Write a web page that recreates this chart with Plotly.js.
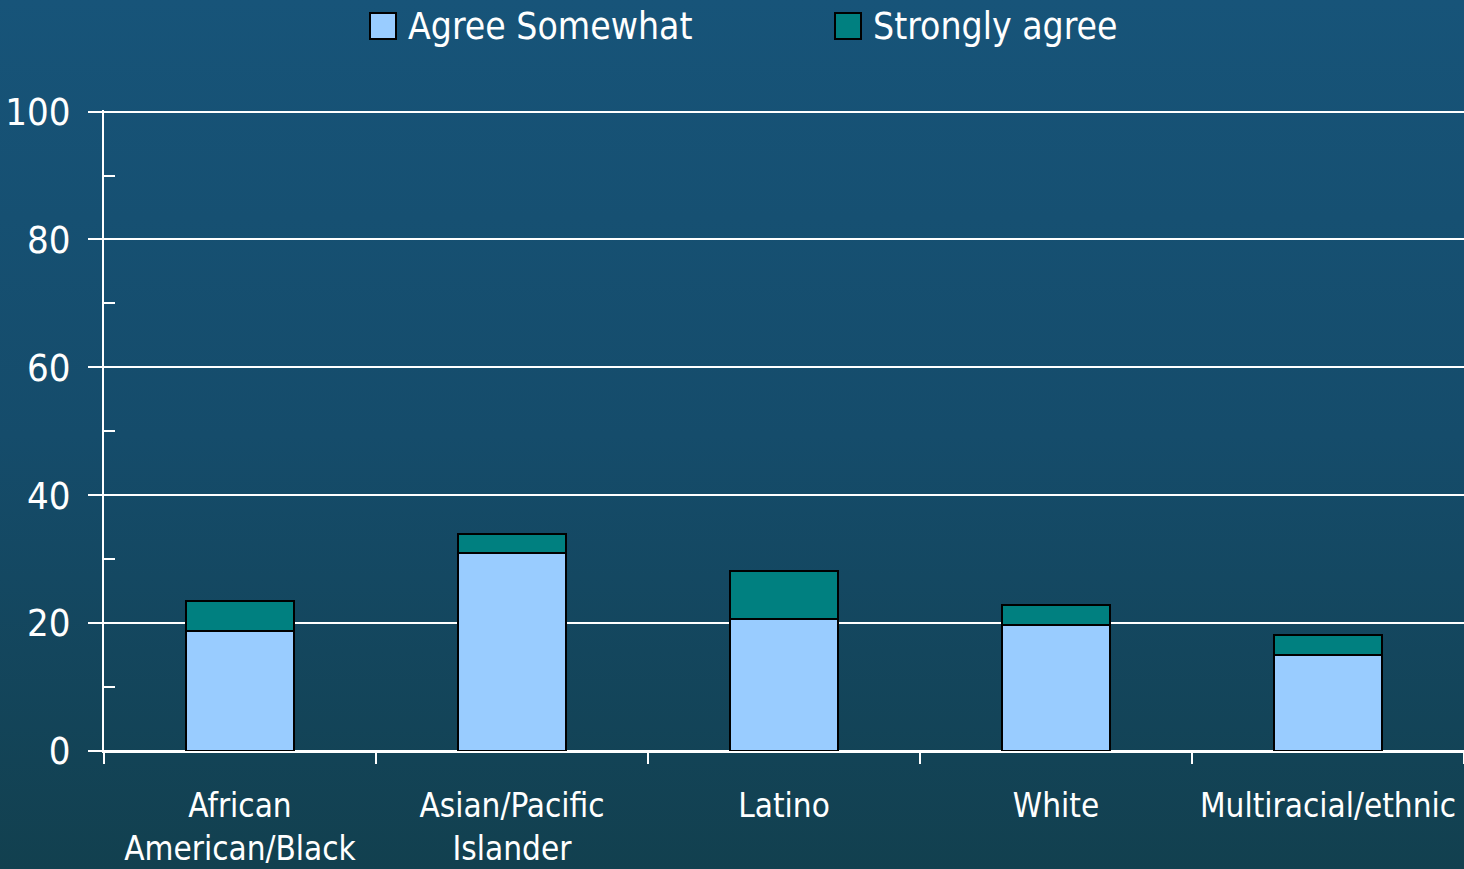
<!DOCTYPE html>
<html>
<head>
<meta charset="utf-8">
<script src="https://cdn.plot.ly/plotly-3.0.1.min.js"></script>
<style>
html,body{margin:0;padding:0;}
body{width:1464px;height:869px;background:linear-gradient(to bottom,#175479 0%,#154c6b 50%,#12404f 100%);}
#chart{width:1464px;height:869px;}
</style>
</head>
<body>
<div id="chart"></div>
<script>
const categories = ["African<br>American/Black", "Asian/Pacific<br>Islander", "Latino", "White", "Multiracial/ethnic"];
const seriesNames = ["Agree Somewhat", "Strongly agree"];
const agreeSomewhat = [18.7, 30.9, 20.6, 19.7, 15.0];
const stronglyAgree = [4.7, 3.1, 7.5, 3.1, 3.1];
const seriesColors = ["#99ccff", "#008080"];

const FONT = "'DejaVu Sans Condensed', 'Liberation Sans Narrow', sans-serif";

const traces = [agreeSomewhat, stronglyAgree].map((vals, i) => ({
  type: "bar",
  name: seriesNames[i],
  x: categories,
  y: vals,
  marker: {color: seriesColors[i], line: {color: "#000000", width: 2}},
  showlegend: false,
  hoverinfo: "x+y"
}));

// custom legend (large boxes)
const plotL = 104, plotW = 1360, plotT = 110, plotH = 641;
function px2x(p){ return (p - plotL) / plotW; }
function py2y(p){ return 1 + (plotT - p) / plotH; }
const legendX = [370, 835];
const shapes = [], annotations = [];
seriesNames.forEach((n, i) => {
  shapes.push({type: "rect", xref: "paper", yref: "paper",
    x0: px2x(legendX[i]), x1: px2x(legendX[i] + 26), y0: py2y(39), y1: py2y(13),
    fillcolor: seriesColors[i], line: {color: "#000000", width: 2}});
  annotations.push({xref: "paper", yref: "paper", x: px2x(legendX[i] + 36), y: py2y(27),
    xanchor: "left", yanchor: "middle", showarrow: false, text: n,
    font: {family: FONT, size: 37, color: "#ffffff"}});
});

const layout = {
  width: 1464, height: 869,
  margin: {l: 104, r: 0, t: 110, b: 118, pad: 0},
  paper_bgcolor: "rgba(0,0,0,0)",
  plot_bgcolor: "rgba(0,0,0,0)",
  barmode: "stack",
  bargap: 0.6,
  showlegend: false,
  font: {family: FONT, color: "#ffffff"},
  xaxis: {
    type: "category",
    showline: true, linecolor: "#ffffff", linewidth: 2,
    ticks: "outside", tickson: "boundaries", ticklen: 11, tickcolor: "#ffffff", tickwidth: 2,
    tickangle: 0,
    ticklabelstandoff: 24,
    tickfont: {family: FONT, size: 33, color: "#ffffff"},
    showgrid: false, fixedrange: true
  },
  yaxis: {
    range: [0, 100.25], tickvals: [0, 20, 40, 60, 80, 100],
    showline: true, linecolor: "#ffffff", linewidth: 2,
    ticks: "outside", ticklen: 14, tickcolor: "#ffffff", tickwidth: 2,
    ticklabelstandoff: 10,
    tickfont: {family: FONT, size: 38, color: "#ffffff"},
    showgrid: true, gridcolor: "#ffffff", gridwidth: 2,
    zeroline: true, zerolinecolor: "#ffffff", zerolinewidth: 2,
    minor: {tickvals: [10, 30, 50, 70, 90], ticks: "inside", ticklen: 11, tickcolor: "#ffffff", tickwidth: 2, showgrid: false},
    fixedrange: true
  },
  shapes: shapes,
  annotations: annotations
};

Plotly.newPlot("chart", traces, layout, {displayModeBar: false, staticPlot: true});
</script>
</body>
</html>
